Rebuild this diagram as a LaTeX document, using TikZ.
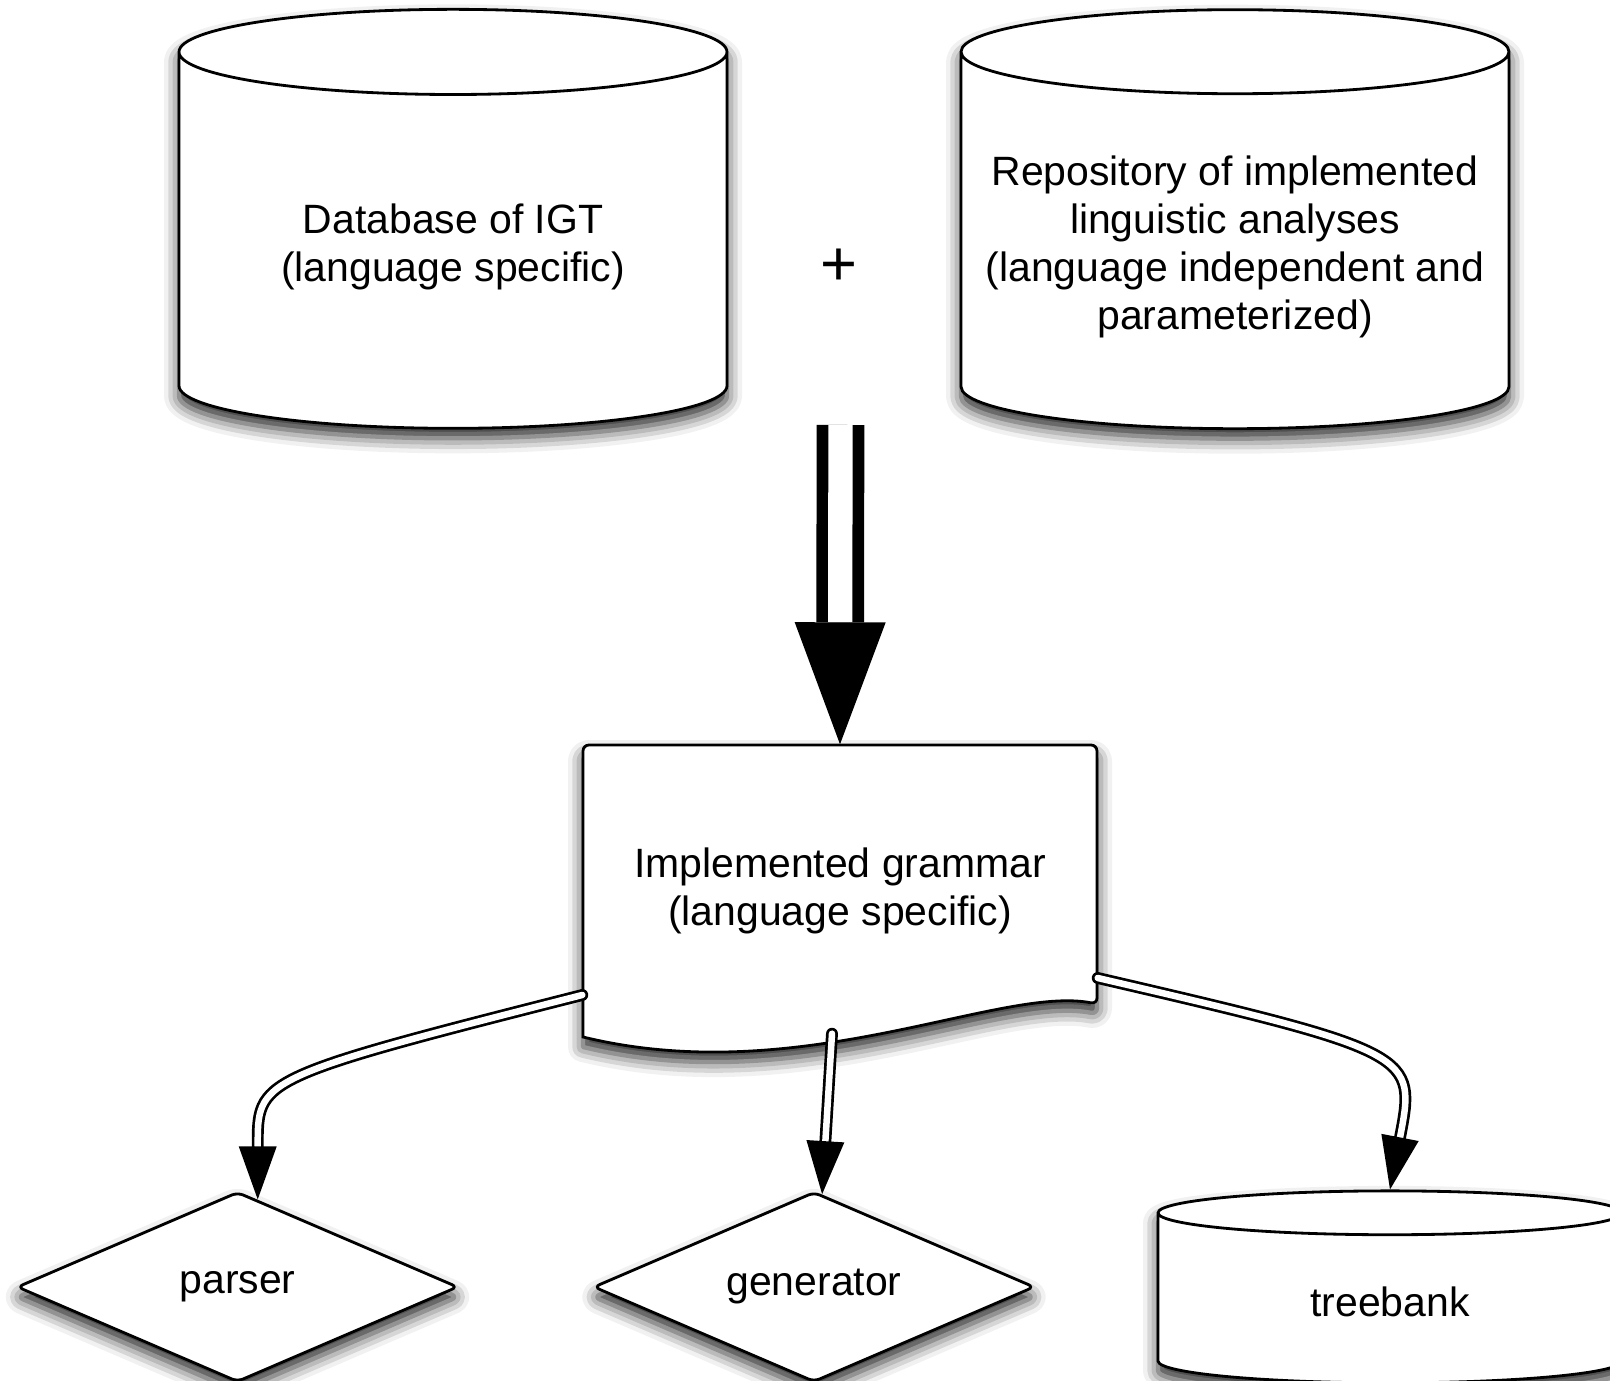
\documentclass[tikz,border=0pt]{standalone}
\usepackage{fontspec}
\setmainfont{Liberation Sans}
\usetikzlibrary{shapes.geometric,arrows.meta,shadows.blur}

\tikzset{
  softshadow/.style={blur shadow={shadow xshift=0pt, shadow yshift=-0.1cm, shadow blur radius=0.15cm, shadow opacity=85}},
  dbase/.style={draw, cylinder, shape border rotate=90, fill=white, line width=0.8pt, align=center, softshadow},
  choice/.style={draw, diamond, rounded corners=0.06cm, fill=white, line width=0.8pt, minimum width=4.41cm, minimum height=1.9cm, aspect=2.3, softshadow},
  docline/.style={draw, fill=white, line width=0.8pt, softshadow},
  flow/.style={double, double distance=0.065cm, line width=0.027cm, line cap=round, -{Triangle[length=0.53cm, width=0.38cm, fill=black, line width=0pt]}},
  bigflow/.style={double, double distance=0.243cm, line width=0.117cm, -{Triangle[length=1.22cm, width=0.91cm, fill=black, line width=0pt]}}
}

\begin{document}
\begin{tikzpicture}[font=\fontsize{11.65pt}{13.66pt}\selectfont]
    \useasboundingbox (0,0) rectangle (16.10,-13.81);

    \node (igt) [dbase, minimum width=5.48cm, minimum height=4.19cm, aspect=0.232] at (4.53,-2.47) {Database of IGT\\(language specific)};
    \node (repo) [dbase, minimum width=5.48cm, minimum height=4.19cm, aspect=0.161] at (12.35,-2.47) {Repository of implemented\\linguistic analyses\\(language independent and\\parameterized)};
    \node (plus) at (8.39,-2.67) {\fontsize{18pt}{20pt}\selectfont +};

    % document shape drawn first, text node on top
    \draw[docline] (5.83,-10.37) [rounded corners=0.06cm] -- (5.83,-7.45) -- (10.97,-7.45) -- (10.97,-10.04) [sharp corners] .. controls (10.00,-9.85) and (8.00,-10.90) .. (5.83,-10.37) -- cycle;
    \node (grammar) [minimum width=5.14cm, minimum height=2.92cm, align=center] at (8.40,-8.91) {Implemented grammar\\(language specific)};

    \node (parser) [choice] at (2.375,-12.87) {parser};
    \node (generator) [choice] at (8.14,-12.87) {generator};
    \node (treebank) [dbase, minimum width=4.64cm, minimum height=1.92cm, aspect=0.24] at (13.90,-13.02) {treebank};

    \coordinate (merge) at (8.405,-4.25);
    \draw[bigflow] (merge) -- (grammar.north);

    \draw[flow] ([yshift=-1.04cm]grammar.west) .. controls +(-3.27,-0.83) and +(0,1.2) .. (parser.77);
    \draw[flow] ([xshift=-0.08cm,yshift=0.04cm]grammar.south) -- (generator.85);
    \draw[flow] ([yshift=-0.87cm]grammar.east) .. controls +(3.19,-0.74) and +(0.26,1.35) .. (treebank.north);
\end{tikzpicture}
\end{document}
